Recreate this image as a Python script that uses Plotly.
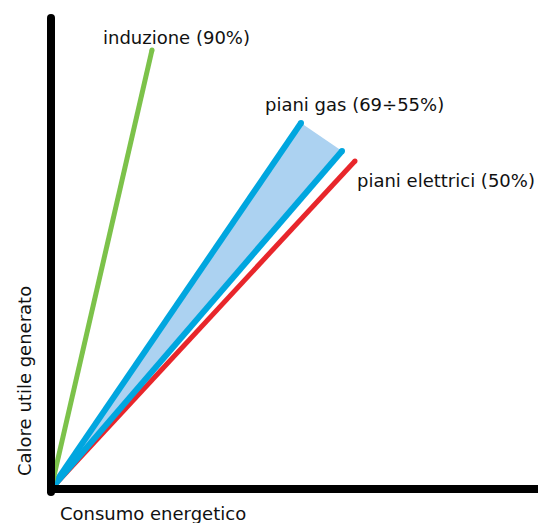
import plotly.graph_objects as go

# Conceptual chart: efficiency lines (consumo energetico -> calore utile generato)
labels = ["induzione (90%)", "piani gas (69÷55%)", "piani elettrici (50%)"]
# end points (x = consumo, y = calore), arbitrary units, origin at (0, 0)
induzione_end = (101, 439)
gas_hi_end = (250, 366)
gas_lo_end = (291, 338)
elettrici_end = (304, 328)
x_title = "Consumo energetico"
y_title = "Calore utile generato"

GREEN = "#7cc24a"
BLUE = "#00a6df"
RED = "#e8262b"
FILL = "#acd2f1"
FONT = "DejaVu Sans, Arial, sans-serif"
FS = 18

fig = go.Figure()

# gas band fill
fig.add_trace(go.Scatter(
    x=[0, gas_hi_end[0], gas_lo_end[0], 0],
    y=[0, gas_hi_end[1], gas_lo_end[1], 0],
    fill="toself", fillcolor=FILL, mode="lines",
    line=dict(width=0, color=FILL), hoverinfo="skip", showlegend=False))

def seg(end, color, width):
    fig.add_trace(go.Scatter(
        x=[0, end[0]], y=[0, end[1]], mode="lines+markers",
        line=dict(color=color, width=width),
        marker=dict(color=color, size=width, line=dict(width=0)),
        hoverinfo="skip", showlegend=False, cliponaxis=False))

seg(elettrici_end, RED, 5)
seg(gas_lo_end, BLUE, 6)
seg(gas_hi_end, BLUE, 6)
seg(induzione_end, GREEN, 5)

# axes drawn as thick lines
fig.add_trace(go.Scatter(x=[0, 0], y=[-3, 471], mode="lines+markers",
                         line=dict(color="black", width=8),
                         marker=dict(color="black", size=8, line=dict(width=0)),
                         hoverinfo="skip", showlegend=False, cliponaxis=False))
fig.add_trace(go.Scatter(x=[-4, 500], y=[0, 0], mode="lines",
                         line=dict(color="black", width=8),
                         hoverinfo="skip", showlegend=False, cliponaxis=False))

ann = [
    dict(x=50, y=452, text=labels[0]),
    dict(x=212, y=385, text=labels[1]),
    dict(x=304, y=309, text=labels[2]),
    dict(x=7, y=-24, text=x_title),
]
for a in ann:
    fig.add_annotation(x=a["x"], y=a["y"], text=a["text"], showarrow=False,
                       xanchor="left", yanchor="middle",
                       font=dict(family=FONT, size=FS, color="#111"))
fig.add_annotation(x=-27, y=108, text=y_title, showarrow=False, textangle=-90,
                   xanchor="center", yanchor="middle",
                   font=dict(family=FONT, size=FS, color="#111"))

fig.update_layout(
    width=538, height=523, margin=dict(l=0, r=0, t=0, b=0),
    paper_bgcolor="white", plot_bgcolor="white",
    xaxis=dict(range=[-51, 487], visible=False, fixedrange=True),
    yaxis=dict(range=[-34, 489], visible=False, fixedrange=True),
)
fig.write_html("out.html",
               config={"displayModeBar": False},
               post_script="document.body.style.margin='0';"
                           "document.body.style.overflow='hidden';")
